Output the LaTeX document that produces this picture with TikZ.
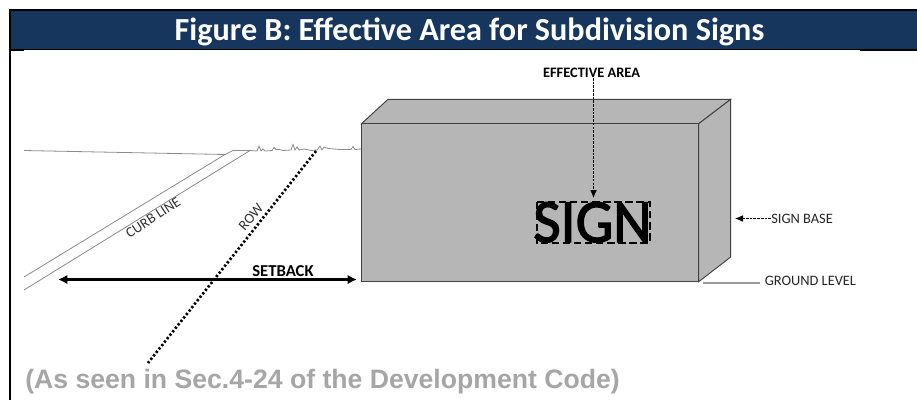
\documentclass[tikz,border=0pt]{standalone}
\usepackage{fontspec}
\setmainfont{Carlito}
\newfontfamily\arialbold{Liberation Sans Bold}
\font\signfont="Carlito:embolden=2.2" at 46pt
\usetikzlibrary{arrows.meta}
\definecolor{navy}{HTML}{17365D}
\definecolor{signgray}{HTML}{B6B6B6}
\definecolor{notegray}{HTML}{A6A6A6}
\definecolor{groundline}{HTML}{8C8C8C}
\tikzset{
  x=0.75pt,y=-0.75pt,
  frame/.style={line width=1.5pt,black},
  facefill/.style={fill=signgray,draw=black!75,line width=0.7pt,line join=miter},
  thinline/.style={draw=groundline,line width=0.6pt},
  lbl/.style={inner sep=0pt,text=black!85,font=\fontsize{10.8pt}{12pt}\selectfont},
  boldlbl/.style={inner sep=0pt,text=black,font=\fontsize{10.8pt}{12pt}\selectfont\bfseries},
  leader/.style={draw=black,line width=0.6pt,dash pattern=on 2pt off 0.8pt,-{Latex[length=6pt,width=5pt]}},
}
\begin{document}
\begin{tikzpicture}
\useasboundingbox (0,0) rectangle (917,400);
\fill[white] (0,0) rectangle (917,400);
% header
\fill[navy] (10,10) rectangle (917,49.5);
\draw[frame] (10,400) -- (10,10) -- (917,10);
\draw[black,line width=0.6pt] (10,49.5) -- (917,49.5);
\draw[black,line width=1pt] (10,50) -- (24,50);
\draw[black,line width=1pt] (860,50) -- (917,50);
\node[inner sep=0pt,text=white,font=\fontsize{24.15pt}{28pt}\selectfont\bfseries,anchor=base] (title) at (469.5,40) {Figure B: Effective Area for Subdivision Signs};
% ground
\coordinate (gl) at (24,150.5);
\coordinate (gk) at (225,154.5);
\coordinate (gc1) at (233,150.5);
\coordinate (gc2) at (250,150.5);
\draw[thinline] (gl) -- (gk) -- (gc1) -- (gc2) -- (257,151) -- (259,146) -- (261,151) -- (263,149) -- (265,151) -- (272,150.5) -- (274,147.5) -- (276,149.5) -- (279,149.5) -- (283,150.5) -- (291,150) -- (293,144.5) -- (295,150) -- (297,147) -- (299,150) -- (304,149) -- (311,150.5) -- (317,150) -- (320,146) -- (322,150) -- (324,147) -- (328,148.5) -- (340,149.5) -- (351,149.5) -- (353,146.5) -- (355,149.5) -- (361,149);
\coordinate (cu) at (24,277);
\coordinate (cd) at (24,290);
\draw[thinline] (gk) -- (cu);
\draw[thinline] (gc2) -- (cd);
\node[lbl,rotate=33,text=black!80] (curb) at (153,217.5) {CURB LINE};
% ROW
\coordinate (r1) at (316,151);
\coordinate (r2) at (148,363);
\draw[black,line width=2pt,dash pattern=on 1.7pt off 1.6pt] (r1) -- (r2);
\node[lbl,rotate=50,text=black!80] (row) at (251,217) {ROW};
% setback
\coordinate (s1) at (58,279.5);
\coordinate (s2) at (357,279.5);
\draw[black,line width=1.9pt,{Latex[length=7pt,width=7pt]}-{Latex[length=7pt,width=7pt]}] (s1) -- (s2);
\node[boldlbl,font=\fontsize{12.5pt}{14pt}\selectfont\bfseries] (setback) at (283,271) {SETBACK};
% box
\path[facefill] (361.5,123.7) -- (388,99.3) -- (730.7,99.3) -- (698.7,123.7) -- cycle;
\path[facefill] (698.7,123.7) -- (730.7,99.3) -- (730.7,257) -- (698.7,281.7) -- cycle;
\path[facefill] (361.5,123.7) rectangle (698.7,281.7);
% sign
\node[inner sep=0pt,text=black,font=\signfont,anchor=base,xscale=0.97] (sign) at (592.5,242) {SIGN};
\draw[black,line width=1.5pt,dash pattern=on 5.5pt off 2.8pt] (537,202) rectangle (649.5,242.5);
% effective area
\node[boldlbl] (eff) at (591.5,72.5) {EFFECTIVE AREA};
\draw[leader] (593.5,78) -- (593.5,198);
% sign base
\node[lbl,anchor=west] (base) at (771,218.5) {SIGN BASE};
\draw[leader] (base.west) -- (735,218.5);
% ground level
\node[lbl,anchor=west] (ground) at (764.5,281) {GROUND LEVEL};
\coordinate (g0) at (703,283);
\coordinate (g1) at (760,283);
\draw[draw=black!40,line width=0.9pt] (g0) -- (g1);
% note
\node[inner sep=0pt,text=notegray,font=\fontsize{19.96pt}{24pt}\selectfont\arialbold,anchor=base west] (note) at (25,388.5) {(As seen in Sec.4-24 of the Development Code)};
\end{tikzpicture}
\end{document}
